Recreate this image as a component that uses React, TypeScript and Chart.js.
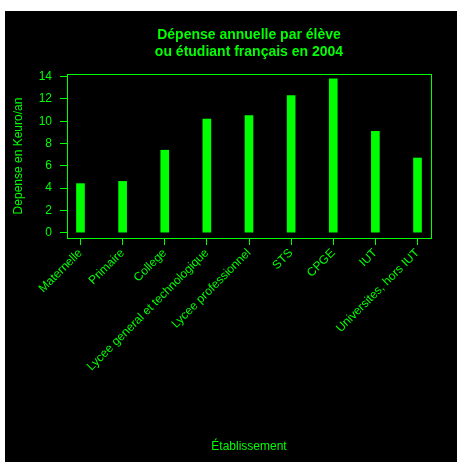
import React, { useEffect, useRef } from "react";
import { Chart, registerables } from "chart.js";

Chart.register(...registerables);

const categories = [
  "Maternelle",
  "Primaire",
  "College",
  "Lycee general et technologique",
  "Lycee professionnel",
  "STS",
  "CPGE",
  "IUT",
  "Universites, hors IUT",
];
const depense = [4.4, 4.6, 7.4, 10.2, 10.5, 12.3, 13.8, 9.1, 6.7];
const yTicks = [0, 2, 4, 6, 8, 10, 12, 14];
const titleLines = ["Dépense annuelle par élève", "ou étudiant français en 2004"];
const yTitle = "Depense en Keuro/an";
const xTitle = "Établissement";

const GREEN = "#00ff00";
const FONT = "'Liberation Sans', Arial, Helvetica, sans-serif";

export default function App() {
  const ref = useRef<HTMLCanvasElement | null>(null);
  useEffect(() => {
    if (!ref.current) return;
    const textPlugin = {
      id: "texts",
      beforeDraw(chart: any) {
        const c = chart.ctx;
        c.save();
        c.fillStyle = "#000";
        c.fillRect(0, 0, chart.width, chart.height);
        c.restore();
      },
      afterDraw(chart: any) {
        const c = chart.ctx;
        const a = chart.chartArea;
        const cx = (a.left + a.right) / 2;
        c.save();
        c.strokeStyle = GREEN;
        c.lineWidth = 1;
        c.strokeRect(a.left + 0.5, a.top + 0.5, a.right - a.left, a.bottom - a.top);
        c.fillStyle = GREEN;
        c.textAlign = "center";
        c.textBaseline = "alphabetic";
        c.font = `bold 14px ${FONT}`;
        c.fillText(titleLines[0], cx, 28);
        c.fillText(titleLines[1], cx, 45);
        c.font = `12px ${FONT}`;
        c.fillText(xTitle, cx, 439);
        c.translate(14, (a.top + a.bottom) / 2);
        c.rotate(-Math.PI / 2);
        c.textBaseline = "middle";
        c.fillText(yTitle, 0, 0);
        c.restore();
      },
    };
    const chart = new Chart(ref.current, {
      type: "bar",
      data: {
        datasets: [
          {
            data: depense.map((v, i) => ({ x: i + 1, y: v })),
            backgroundColor: GREEN,
            borderWidth: 0,
            barThickness: 8,
          },
        ],
      },
      options: {
        animation: false,
        responsive: false,
        layout: { padding: { top: 63, right: 26, left: 0, bottom: 0 } },
        plugins: { legend: { display: false }, tooltip: { enabled: false }, title: { display: false } },
        scales: {
          x: {
            type: "linear",
            min: 0.68,
            max: 9.32,
            offset: false,
            afterBuildTicks: (s: any) => {
              s.ticks = categories.map((_, i) => ({ value: i + 1 }));
            },
            afterFit: (s: any) => {
              s.height = 224;
            },
            grid: { offset: false, drawOnChartArea: false, color: GREEN, tickLength: 7, tickColor: GREEN },
            border: { display: true, color: GREEN },
            ticks: {
              color: GREEN,
              font: { family: FONT, size: 12 },
              minRotation: 45,
              maxRotation: 45,
              autoSkip: false,
              padding: 1,
              callback: (v: any) => categories[Math.round(Number(v)) - 1] ?? "",
            },
          },
          y: {
            type: "linear",
            min: -0.48,
            max: 14.24,
            afterBuildTicks: (s: any) => {
              s.ticks = yTicks.map((v) => ({ value: v }));
            },
            afterFit: (s: any) => {
              s.width = 62;
            },
            grid: { drawOnChartArea: false, color: GREEN, tickLength: 7, tickColor: GREEN },
            border: { display: true, color: GREEN },
            ticks: {
              color: GREEN,
              font: { family: FONT, size: 12 },
              padding: 8,
            },
          },
        },
      },
      plugins: [textPlugin],
    } as any);
    return () => chart.destroy();
  }, []);
  return (
    <div style={{ position: "absolute", left: 5, top: 11, width: 452, height: 451 }}>
      <canvas ref={ref} width={452} height={451} style={{ width: 452, height: 451, display: "block" }} />
    </div>
  );
}
